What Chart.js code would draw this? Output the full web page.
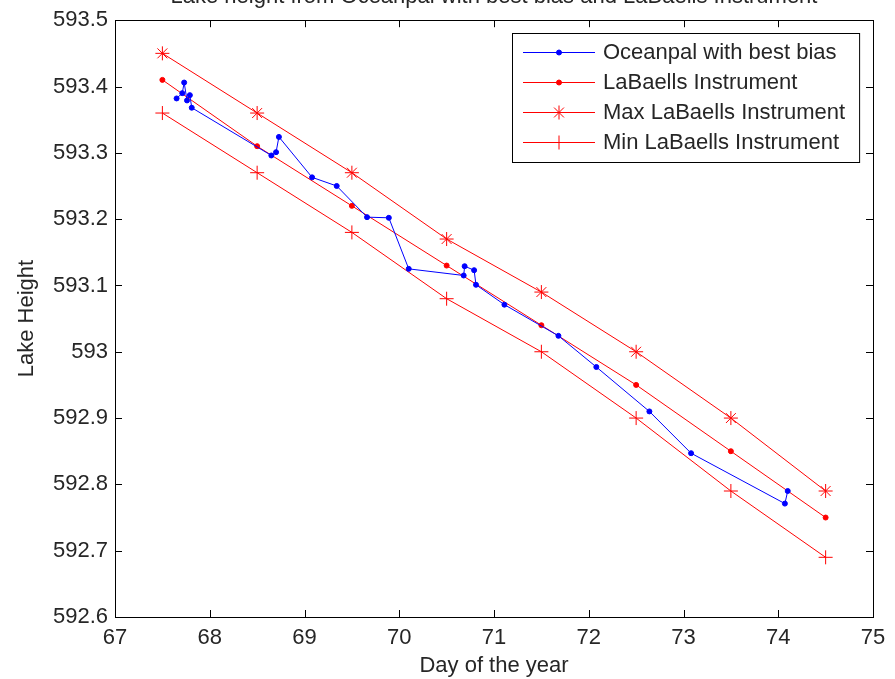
<!DOCTYPE html>
<html>
<head>
<meta charset="utf-8">
<script src="https://cdn.jsdelivr.net/npm/chart.js@4.4.1/dist/chart.umd.min.js"></script>
<style>
    html, body { margin: 0; padding: 0; background: #fff; }
</style>
</head>
<body>
<canvas id="myChart" width="895" height="679"></canvas>
<script>
// Oceanpal series (day of year, lake height)
let oceanDays   = [67.65, 67.71, 67.73, 67.76, 67.79, 67.81, 68.65, 68.70, 68.73, 69.08, 69.34, 69.66, 69.89,
                   70.10, 70.68, 70.69, 70.79, 70.81, 71.11, 71.68, 72.08, 72.64, 73.08, 74.07, 74.10];
let oceanHeight = [593.382, 593.390, 593.406, 593.379, 593.387, 593.368, 593.296, 593.301, 593.324, 593.263, 593.250, 593.203, 593.202,
                   593.125, 593.115, 593.129, 593.123, 593.101, 593.071, 593.024, 592.977, 592.910, 592.847, 592.771, 592.790];

// LaBaells instrument series
let labDays   = [67.5, 68.5, 69.5, 70.5, 71.5, 72.5, 73.5, 74.5];
let labHeight = [593.41, 593.31, 593.22, 593.13, 593.04, 592.95, 592.85, 592.75];
let labMax    = [593.45, 593.36, 593.27, 593.17, 593.09, 593.00, 592.90, 592.79];
let labMin    = [593.36, 593.27, 593.18, 593.08, 593.00, 592.90, 592.79, 592.69];

let seriesNames = ['Oceanpal with best bias', 'LaBaells Instrument', 'Max LaBaells Instrument', 'Min LaBaells Instrument'];
let chartTitle = 'Lake height from Oceanpal with best bias and LaBaells Instrument';

const font = '"Liberation Sans", Arial, Helvetica, sans-serif';
const textColor = '#262626';

function pairs(xs, ys) {
    return xs.map((x, i) => ({ x: x, y: ys[i] }));
}

// matlab style box, inward ticks, title and legend
const matlabFrame = {
    id: 'matlabFrame',
    afterDraw(chart) {
        const ctx = chart.ctx;
        const a = chart.chartArea;
        const xs = chart.scales.x, ys = chart.scales.y;
        ctx.save();
        ctx.strokeStyle = '#000';
        ctx.lineWidth = 1;
        ctx.strokeRect(Math.round(a.left) + 0.5, Math.round(a.top) + 0.5, Math.round(a.right - a.left), Math.round(a.bottom - a.top));
        ctx.beginPath();
        xs.ticks.forEach(t => {
            let px = Math.round(xs.getPixelForValue(t.value)) + 0.5;
            ctx.moveTo(px, a.bottom); ctx.lineTo(px, a.bottom - 7);
            ctx.moveTo(px, a.top); ctx.lineTo(px, a.top + 7);
        });
        ys.ticks.forEach(t => {
            let py = Math.round(ys.getPixelForValue(t.value)) + 0.5;
            ctx.moveTo(a.left, py); ctx.lineTo(a.left + 7, py);
            ctx.moveTo(a.right, py); ctx.lineTo(a.right - 7, py);
        });
        ctx.stroke();

        // title (sits above the axes, partly cut off like the original)
        ctx.font = '22px ' + font;
        ctx.fillStyle = textColor;
        ctx.textAlign = 'center';
        ctx.textBaseline = 'alphabetic';
        ctx.fillText(chartTitle, (a.left + a.right) / 2, 3);

        // legend box
        const sets = chart.data.datasets;
        const boxLeft = 512, boxTop = 33, rowY0 = 52, rowH = 30, textX = 603;
        const maxW = Math.max(...sets.map(d => ctx.measureText(d.label).width));
        const boxRight = textX + maxW + 14;
        const boxBottom = rowY0 + rowH * (sets.length - 1) + 20;
        ctx.fillStyle = '#fff';
        ctx.fillRect(boxLeft, boxTop, boxRight - boxLeft, boxBottom - boxTop);
        ctx.strokeStyle = '#000';
        ctx.strokeRect(boxLeft + 0.5, boxTop + 0.5, boxRight - boxLeft, boxBottom - boxTop);
        ctx.textAlign = 'left';
        ctx.textBaseline = 'middle';
        sets.forEach((d, i) => {
            let y = rowY0 + i * rowH;
            ctx.strokeStyle = d.borderColor;
            ctx.lineWidth = 1;
            ctx.beginPath();
            ctx.moveTo(523, y + 0.5); ctx.lineTo(595, y + 0.5);
            ctx.stroke();
            ctx.fillStyle = d.pointBackgroundColor;
            ctx.strokeStyle = d.pointBorderColor;
            Chart.helpers.drawPoint(ctx, { pointStyle: d.pointStyle, radius: d.pointRadius, rotation: 0, borderWidth: d.pointBorderWidth }, 559, y + 0.5);
            ctx.fillStyle = textColor;
            ctx.fillText(d.label, textX, y + 1);
        });
        ctx.restore();
    }
};

let myChart = document.getElementById('myChart').getContext('2d');
let chart = new Chart(myChart, {
    type: 'scatter',
    data: {
        datasets: [
            {
                label: seriesNames[0],
                data: pairs(oceanDays, oceanHeight),
                showLine: true,
                borderWidth: 1,
                borderColor: '#0000ff',
                pointStyle: 'circle',
                pointRadius: 2.5,
                pointBorderWidth: 1,
                pointBackgroundColor: '#0000ff',
                pointBorderColor: '#0000ff'
            },
            {
                label: seriesNames[1],
                data: pairs(labDays, labHeight),
                showLine: true,
                borderWidth: 1,
                borderColor: '#ff0000',
                pointStyle: 'circle',
                pointRadius: 2.5,
                pointBorderWidth: 1,
                pointBackgroundColor: '#ff0000',
                pointBorderColor: '#ff0000'
            },
            {
                label: seriesNames[2],
                data: pairs(labDays, labMax),
                showLine: true,
                borderWidth: 1,
                borderColor: '#ff0000',
                pointStyle: 'star',
                pointRadius: 7,
                pointBorderWidth: 1,
                pointBackgroundColor: '#ff0000',
                pointBorderColor: '#ff0000'
            },
            {
                label: seriesNames[3],
                data: pairs(labDays, labMin),
                showLine: true,
                borderWidth: 1,
                borderColor: '#ff0000',
                pointStyle: 'cross',
                pointRadius: 7,
                pointBorderWidth: 1,
                pointBackgroundColor: '#ff0000',
                pointBorderColor: '#ff0000'
            }
        ]
    },
    options: {
        responsive: false,
        animation: false,
        layout: { padding: { top: 19, right: 22, left: 0, bottom: 0 } },
        plugins: {
            legend: { display: false },
            title: { display: false },
            tooltip: { enabled: false }
        },
        scales: {
            x: {
                type: 'linear',
                min: 67,
                max: 75,
                afterFit: s => { s.height = 62; },
                grid: { display: false, drawTicks: false },
                border: { display: false },
                ticks: {
                    stepSize: 1,
                    padding: 8,
                    color: textColor,
                    font: { family: font, size: 22 }
                },
                title: {
                    display: true,
                    text: 'Day of the year',
                    color: textColor,
                    padding: 0,
                    font: { family: font, size: 22 }
                }
            },
            y: {
                type: 'linear',
                min: 592.6,
                max: 593.5,
                afterFit: s => { s.width = 115; },
                grid: { display: false, drawTicks: false },
                border: { display: false },
                ticks: {
                    stepSize: 0.1,
                    padding: 7,
                    color: textColor,
                    font: { family: font, size: 22 },
                    callback: v => String(+v.toFixed(1))
                },
                title: {
                    display: true,
                    text: 'Lake Height',
                    color: textColor,
                    padding: { top: 14, bottom: 0 },
                    font: { family: font, size: 22 }
                }
            }
        }
    },
    plugins: [matlabFrame]
});
</script>
</body>
</html>
